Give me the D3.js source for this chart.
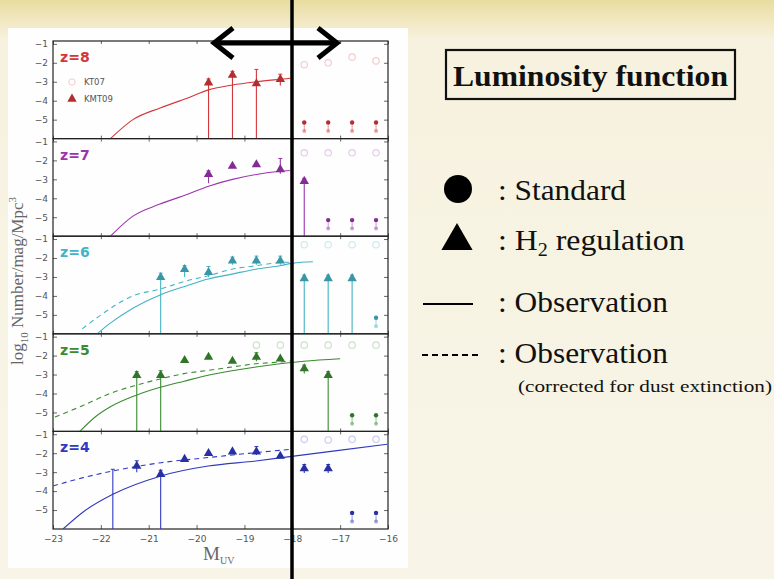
<!DOCTYPE html>
<html>
<head>
<meta charset="utf-8">
<script src="https://cdn.jsdelivr.net/npm/d3@7"></script>
<style>
  body { margin: 0; }
  svg { display: block; }
</style>
</head>
<body>
<script>
// panels, top to bottom
const redshifts = ["z=8", "z=7", "z=6", "z=5", "z=4"];
const panelColors = ["#d4373b", "#9c35ad", "#44b3c4", "#3a8b32", "#3139c2"];
const muvTicks = [-23, -22, -21, -20, -19, -18, -17, -16];
const logTicks = [-1, -2, -3, -4, -5];

// KMT09 triangles (H2 regulation): [M_UV, log10 phi]
const kmt09 = [
  [[-19.75, -3.05], [-19.25, -2.65], [-18.75, -3.1], [-18.25, -2.87]],
  [[-19.75, -2.74], [-19.25, -2.3], [-18.75, -2.22], [-18.25, -2.48], [-17.75, -3.1]],
  [[-20.75, -3.02], [-20.25, -2.6], [-19.75, -2.76], [-19.25, -2.15], [-18.75, -2.15], [-18.25, -2.15],
   [-17.75, -3.08], [-17.25, -3.08], [-16.75, -3.08]],
  [[-21.25, -3.04], [-20.75, -3.04], [-20.25, -2.25], [-19.75, -2.08], [-19.25, -2.29], [-18.75, -2.08],
   [-18.25, -2.17], [-17.75, -2.69], [-17.25, -3.04]],
  [[-21.25, -2.68], [-20.75, -3.11], [-20.25, -2.32], [-19.75, -2.01], [-19.25, -1.92], [-18.75, -1.92],
   [-18.25, -2.15], [-17.75, -2.81], [-17.25, -2.81]]
];

// error bars: [M_UV, low, high]  (low -6 runs to the panel floor)
const errBars = [
  [[-19.75, -6, -2.85], [-19.25, -6, -2.45], [-18.75, -6, -2.35], [-18.25, -3.2, -2.6]],
  [[-19.75, -3.2, -2.55], [-18.25, -2.7, -1.9], [-17.75, -6, -2.95]],
  [[-20.75, -6, -2.8], [-20.25, -3.0, -2.4], [-19.75, -3.0, -2.45], [-19.25, -2.35, -1.95],
   [-18.75, -2.35, -1.9], [-18.25, -2.35, -1.9], [-17.75, -6, -2.9], [-17.25, -6, -2.9], [-16.75, -6, -2.9]],
  [[-21.25, -6, -2.85], [-20.75, -6, -2.8], [-18.75, -2.3, -1.85], [-17.75, -2.95, -2.5], [-17.25, -6, -2.85]],
  [[-21.75, -6, -2.85], [-21.25, -3.0, -2.4], [-20.75, -6, -2.9], [-18.75, -2.1, -1.65],
   [-17.75, -3.05, -2.6], [-17.25, -3.05, -2.6]]
];

// KT07 open circles (faint)
const kt07 = [
  [[-17.75, -2.1], [-17.25, -2.0], [-16.75, -1.7], [-16.25, -1.9]],
  [[-17.75, -1.6], [-17.25, -1.6], [-16.75, -1.6], [-16.25, -1.6]],
  [[-17.75, -1.3], [-17.25, -1.3], [-16.75, -1.3], [-16.25, -1.3]],
  [[-18.75, -1.45], [-18.25, -1.45], [-17.75, -1.45], [-17.25, -1.45], [-16.75, -1.45], [-16.25, -1.45]],
  [[-17.75, -1.27], [-17.25, -1.3], [-16.75, -1.27], [-16.25, -1.27]]
];

// small markers near log phi = -5.15 (faint twin at -5.6)
const floorMarks = [
  [-17.75, -17.25, -16.75, -16.25],
  [-17.25, -16.75, -16.25],
  [-16.25],
  [-16.75, -16.25],
  [-16.75, -16.25]
];
const floorHi = -5.15, floorLo = -5.6;

// observed LF (solid)
const obsLF = [
  [[-21.8, -6.0], [-21.33, -5.0], [-20.76, -4.38], [-20.2, -3.87], [-19.75, -3.43], [-19.25, -3.17],
   [-18.75, -3.0], [-18.25, -2.87], [-18.05, -2.82]],
  [[-21.8, -6.0], [-21.33, -4.94], [-20.78, -4.32], [-20.2, -3.8], [-19.75, -3.36], [-19.25, -3.0],
   [-18.75, -2.74], [-18.25, -2.57], [-18.05, -2.53]],
  [[-22.08, -6.0], [-21.81, -5.45], [-21.33, -4.65], [-20.76, -3.95], [-20.2, -3.46], [-19.76, -3.11],
   [-19.26, -2.85], [-18.76, -2.59], [-18.26, -2.41], [-17.99, -2.27], [-17.57, -2.2]],
  [[-22.44, -6.0], [-22.1, -5.2], [-21.8, -4.7], [-21.27, -4.1], [-20.74, -3.66], [-20.26, -3.35],
   [-19.76, -3.04], [-19.26, -2.8], [-18.76, -2.6], [-18.26, -2.43], [-17.76, -2.3], [-17.0, -2.17]],
  [[-22.79, -6.0], [-22.37, -5.1], [-21.75, -4.17], [-20.74, -3.2], [-19.76, -2.68], [-18.76, -2.41],
   [-18.05, -2.18], [-17.15, -1.89], [-16.02, -1.53]]
];

// observed LF corrected for dust (dashed)
const obsDustLF = [
  null,
  null,
  [[-22.39, -5.74], [-22.02, -5.04], [-21.33, -4.0], [-20.76, -3.64], [-20.2, -3.2], [-19.76, -2.94],
   [-19.26, -2.59], [-18.76, -2.41], [-18.26, -2.24], [-18.05, -2.22]],
  [[-22.96, -5.24], [-22.37, -4.63], [-21.81, -4.0], [-21.27, -3.57], [-20.74, -3.22], [-20.26, -2.95],
   [-19.76, -2.78], [-19.26, -2.6], [-18.76, -2.43], [-18.26, -2.34], [-17.99, -2.27]],
  [[-23.0, -3.73], [-22.37, -3.29], [-21.75, -2.94], [-20.74, -2.5], [-19.76, -2.23], [-18.76, -1.97],
   [-18.05, -1.8]]
];

const W = 774, H = 579;
const svg = d3.select("body").append("svg").attr("width", W).attr("height", H);
const defs = svg.append("defs");

// slide background
const grad = defs.append("linearGradient").attr("id", "bg")
  .attr("x1", 0).attr("x2", 0).attr("y1", 0).attr("y2", 1);
grad.append("stop").attr("offset", "0%").attr("stop-color", "#e9dc9f");
grad.append("stop").attr("offset", "3%").attr("stop-color", "#f0e6bd");
grad.append("stop").attr("offset", "7%").attr("stop-color", "#f7f2df");
grad.append("stop").attr("offset", "100%").attr("stop-color", "#f8f5e8");
svg.append("rect").attr("width", W).attr("height", H).attr("fill", "url(#bg)");
svg.append("rect").attr("x", 8).attr("y", 28).attr("width", 400).attr("height", 540).attr("fill", "#fefefe");

const x = d3.scaleLinear().domain([-23, -16]).range([53, 388]);
const band = d3.scaleBand().domain(redshifts).range([41, 529]);
const tickFont = "DejaVu Sans, sans-serif";

redshifts.forEach((z, i) => {
  const top = band(z), bot = top + band.bandwidth();
  const y = d3.scaleLinear().domain([-6, -0.85]).range([bot, top]);
  const col = panelColors[i];
  const dark = d3.color(col).darker(0.5).formatHex();
  const g = svg.append("g");

  defs.append("clipPath").attr("id", "clip" + i)
    .append("rect").attr("x", x.range()[0]).attr("y", top)
    .attr("width", x.range()[1] - x.range()[0]).attr("height", bot - top);

  // axes
  const axL = g.append("g").attr("transform", `translate(${x.range()[0]},0)`)
    .call(d3.axisLeft(y).tickValues(logTicks).tickFormat(d3.format("d"))
      .tickSizeInner(-4).tickSizeOuter(0).tickPadding(5));
  const axR = g.append("g").attr("transform", `translate(${x.range()[1]},0)`)
    .call(d3.axisRight(y).tickValues(logTicks).tickSizeInner(-4).tickSizeOuter(0).tickFormat(""));
  const axT = g.append("g").attr("transform", `translate(0,${top})`)
    .call(d3.axisTop(x).tickValues(muvTicks).tickSizeInner(-3).tickSizeOuter(0).tickFormat(""));
  const axB = g.append("g").attr("transform", `translate(0,${bot})`)
    .call(d3.axisBottom(x).tickValues(muvTicks).tickSizeInner(i === 4 ? -4 : -3).tickSizeOuter(0)
      .tickPadding(7).tickFormat(i === 4 ? d3.format("d") : ""));
  [axL, axR, axT, axB].forEach(a => {
    a.select(".domain").remove();
    a.selectAll("line").attr("stroke", "#666");
    a.selectAll("text").attr("font-family", tickFont).attr("font-size", 9).attr("fill", "#555");
  });

  g.append("rect").attr("x", x.range()[0]).attr("y", top)
    .attr("width", x.range()[1] - x.range()[0]).attr("height", bot - top)
    .attr("fill", "none").attr("stroke", "#222").attr("stroke-width", 1.2);

  const plot = g.append("g").attr("clip-path", `url(#clip${i})`);
  const line = d3.line().x(d => x(d[0])).y(d => y(d[1])).curve(d3.curveMonotoneX);

  plot.append("path").datum(obsLF[i]).attr("d", line)
    .attr("fill", "none").attr("stroke", col).attr("stroke-width", 1.1);
  if (obsDustLF[i]) {
    plot.append("path").datum(obsDustLF[i]).attr("d", line)
      .attr("fill", "none").attr("stroke", col).attr("stroke-width", 1.1)
      .attr("stroke-dasharray", "5,4");
  }

  // KT07 faint circles
  plot.selectAll(".kt").data(kt07[i]).join("circle")
    .attr("cx", d => x(d[0])).attr("cy", d => y(d[1])).attr("r", 3.2)
    .attr("fill", "none").attr("stroke", col).attr("stroke-opacity", 0.25).attr("stroke-width", 1.2);

  // error bars
  plot.selectAll(".eb").data(errBars[i]).join("line")
    .attr("x1", d => x(d[0])).attr("x2", d => x(d[0]))
    .attr("y1", d => y(d[1])).attr("y2", d => y(d[2]))
    .attr("stroke", col).attr("stroke-width", 1.1);
  plot.selectAll(".cap").data(errBars[i]).join("line")
    .attr("x1", d => x(d[0]) - 2).attr("x2", d => x(d[0]) + 2)
    .attr("y1", d => y(d[2])).attr("y2", d => y(d[2]))
    .attr("stroke", col).attr("stroke-width", 1);

  // floor markers
  floorMarks[i].forEach(m => {
    plot.append("line").attr("x1", x(m)).attr("x2", x(m)).attr("y1", y(floorHi)).attr("y2", y(floorLo))
      .attr("stroke", col).attr("stroke-opacity", 0.5);
    plot.append("circle").attr("cx", x(m)).attr("cy", y(floorLo)).attr("r", 2)
      .attr("fill", col).attr("fill-opacity", 0.45);
    plot.append("circle").attr("cx", x(m)).attr("cy", y(floorHi)).attr("r", 2.2).attr("fill", dark);
  });

  // triangles
  plot.selectAll(".tri").data(kmt09[i]).join("path")
    .attr("transform", d => `translate(${x(d[0])},${y(d[1])})`)
    .attr("d", d3.symbol(d3.symbolTriangle, 38))
    .attr("fill", dark);

  // panel label
  g.append("text").attr("x", 60).attr("y", top + 21).text(z)
    .attr("font-family", tickFont).attr("font-weight", "bold").attr("font-size", 14).attr("fill", col);

  if (i === 0) {
    g.append("circle").attr("cx", 72).attr("cy", top + 41).attr("r", 3.2)
      .attr("fill", "none").attr("stroke", col).attr("stroke-opacity", 0.25);
    g.append("text").attr("x", 84).attr("y", top + 44).text("KT07")
      .attr("font-family", tickFont).attr("font-size", 8.5).attr("fill", "#555");
    g.append("path").attr("transform", `translate(72,${top + 58})`)
      .attr("d", d3.symbol(d3.symbolTriangle, 38)).attr("fill", dark);
    g.append("text").attr("x", 84).attr("y", top + 61).text("KMT09")
      .attr("font-family", tickFont).attr("font-size", 8.5).attr("fill", "#555");
  }
});

// axis titles
const serif = "Liberation Serif, Times New Roman, serif";
const yl = svg.append("text").attr("transform", "translate(23,281) rotate(-90)")
  .attr("text-anchor", "middle").attr("font-family", serif).attr("font-size", 17).attr("fill", "#666");
yl.append("tspan").text("log");
yl.append("tspan").attr("font-size", 11).attr("dy", 5).text("10");
yl.append("tspan").attr("dy", -5).text(" Number/mag/Mpc");
yl.append("tspan").attr("font-size", 11).attr("dy", -7).text("3");

const xl = svg.append("text").attr("x", 203).attr("y", 560)
  .attr("font-family", serif).attr("font-size", 19).attr("fill", "#666");
xl.append("tspan").text("M");
xl.append("tspan").attr("font-size", 10).attr("dy", 4).text("UV");

// threshold line and arrow
svg.append("line").attr("x1", 292).attr("x2", 292).attr("y1", 0).attr("y2", H)
  .attr("stroke", "#000").attr("stroke-width", 3.5);
const arr = svg.append("g").attr("stroke", "#000").attr("fill", "none")
  .attr("stroke-width", 5).attr("stroke-linejoin", "miter");
arr.append("line").attr("x1", 216).attr("x2", 335).attr("y1", 43).attr("y2", 43);
arr.append("path").attr("d", "M233,28 L214,43 L233,58");
arr.append("path").attr("d", "M318,28 L337,43 L318,58");

// right side legend
const leg = svg.append("g").attr("font-family", serif).attr("fill", "#111");
leg.append("rect").attr("x", 446).attr("y", 50).attr("width", 289).attr("height", 49)
  .attr("fill", "none").attr("stroke", "#111").attr("stroke-width", 2.2);
leg.append("text").attr("x", 453).attr("y", 86)
  .attr("font-weight", "bold").attr("font-size", 30)
  .attr("textLength", 275).attr("lengthAdjust", "spacingAndGlyphs").text("Luminosity function");

leg.append("circle").attr("cx", 458).attr("cy", 189).attr("r", 14).attr("fill", "#000");
leg.append("text").attr("x", 498).attr("y", 200).attr("font-size", 30)
  .attr("textLength", 128).attr("lengthAdjust", "spacingAndGlyphs").text(": Standard");

leg.append("path").attr("transform", "translate(457,241)")
  .attr("d", d3.symbol(d3.symbolTriangle, 420)).attr("fill", "#000");
const h2 = leg.append("text").attr("transform", "translate(498,250) scale(1.06,1)").attr("font-size", 30);
h2.append("tspan").text(":  H");
h2.append("tspan").attr("font-size", 19).attr("dy", 6).text("2");
h2.append("tspan").attr("dy", -6).text(" regulation");

leg.append("line").attr("x1", 423).attr("x2", 473).attr("y1", 304).attr("y2", 304)
  .attr("stroke", "#000").attr("stroke-width", 2);
leg.append("text").attr("x", 498).attr("y", 312).attr("font-size", 30)
  .attr("textLength", 170).attr("lengthAdjust", "spacingAndGlyphs").text(": Observation");

leg.append("line").attr("x1", 422).attr("x2", 478).attr("y1", 355).attr("y2", 355)
  .attr("stroke", "#000").attr("stroke-width", 2).attr("stroke-dasharray", "6,4");
leg.append("text").attr("x", 498).attr("y", 363).attr("font-size", 30)
  .attr("textLength", 170).attr("lengthAdjust", "spacingAndGlyphs").text(": Observation");
leg.append("text").attr("x", 518).attr("y", 392).attr("font-size", 17)
  .attr("textLength", 254).attr("lengthAdjust", "spacingAndGlyphs").text("(corrected for dust extinction)");
</script>
</body>
</html>
